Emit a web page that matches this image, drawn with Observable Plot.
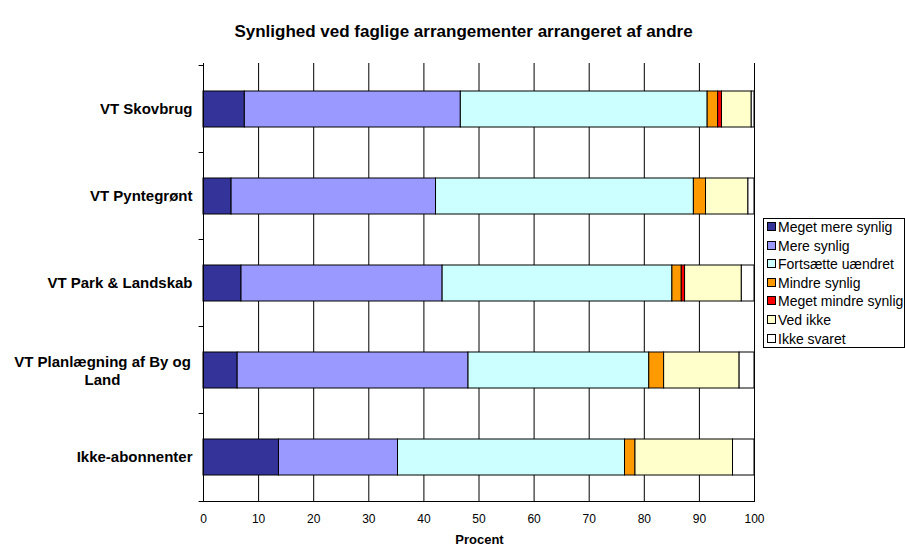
<!DOCTYPE html>
<html>
<head>
<meta charset="utf-8">
<script src="https://cdn.jsdelivr.net/npm/d3@7"></script>
<script src="https://cdn.jsdelivr.net/npm/@observablehq/plot@0.6"></script>
<style>
  html, body { margin: 0; padding: 0; background: #fff; }
  body { font-family: "Liberation Sans", Arial, sans-serif; }
  #wrap { position: relative; width: 905px; height: 547px; overflow: hidden; }
  #title { position: absolute; left: 0; width: 927px; top: 22px; text-align: center; font-weight: bold; font-size: 17px; line-height: 20px; }
  #xlabel { position: absolute; left: 203px; width: 553px; top: 532px; text-align: center; font-weight: bold; font-size: 13px; line-height: 15px; }
  #legend { position: absolute; left: 763px; top: 218px; width: 142px; height: 130px; box-sizing: border-box; border: 1px solid #000; background: #fff; }
  .item { position: absolute; left: 3px; height: 16px; font-size: 14px; line-height: 16px; white-space: nowrap; }
  .sw { display: inline-block; width: 7px; height: 7px; border: 1px solid #000; margin-right: 2px; vertical-align: 1px; }
  #chart { position: absolute; left: 0; top: 0; }
</style>
</head>
<body>
<div id="wrap">
  <div id="chart"></div>
  <div id="title">Synlighed ved faglige arrangementer arrangeret af andre</div>
  <div id="xlabel">Procent</div>
  <div id="legend"></div>
</div>
<script>
const categories = ["VT Skovbrug", "VT Pyntegrønt", "VT Park & Landskab", "VT Planlægning af By og Land", "Ikke-abonnenter"];
const categoryLabels = ["VT Skovbrug", "VT Pyntegrønt", "VT Park & Landskab", "VT Planlægning af By og\nLand", "Ikke-abonnenter"];
const series = ["Meget mere synlig", "Mere synlig", "Fortsætte uændret", "Mindre synlig", "Meget mindre synlig", "Ved ikke", "Ikke svaret"];
const seriesColors = ["#333399", "#9999FF", "#CCFFFF", "#FF9900", "#FF0000", "#FFFFCC", "#FFFFFF"];

const megetMereSynlig   = [7.5, 5.1, 6.9, 6.2, 13.7];
const mereSynlig        = [39.2, 37.1, 36.5, 41.9, 21.6];
const fortsaetteUaendret= [44.8, 46.8, 41.7, 32.8, 41.2];
const mindreSynlig      = [1.9, 2.2, 1.7, 2.7, 1.9];
const megetMindreSynlig = [0.7, 0, 0.6, 0, 0];
const vedIkke           = [5.4, 7.7, 10.3, 13.7, 17.7];
const ikkeSvaret        = [0.5, 1.1, 2.3, 2.7, 3.9];
const xTicks = [0, 10, 20, 30, 40, 50, 60, 70, 80, 90, 100];

const seriesValues = [megetMereSynlig, mereSynlig, fortsaetteUaendret, mindreSynlig, megetMindreSynlig, vedIkke, ikkeSvaret];
const data = categories.flatMap((c, i) => series.map((s, j) => ({category: c, series: s, value: seriesValues[j][i]})))
  .filter(d => d.value > 0);

const singleLabels = categories.filter((c, i) => !categoryLabels[i].includes("\n"));
const multiLabels = categories.filter((c, i) => categoryLabels[i].includes("\n"));
const labelOf = c => categoryLabels[categories.indexOf(c)];
const lastCat = categories[categories.length - 1];

const chart = Plot.plot({
  width: 905,
  height: 547,
  marginLeft: 203,
  marginRight: 151,
  marginTop: 63,
  marginBottom: 45,
  style: {fontFamily: "'Liberation Sans', Arial, sans-serif", background: "transparent"},
  x: {domain: [0, 100], axis: null},
  y: {domain: categories, paddingInner: 0.59, paddingOuter: 0.295, axis: null},
  color: {domain: series, range: seriesColors},
  marks: [
    Plot.ruleX(xTicks.slice(1), {stroke: "#000", strokeWidth: 1}),
    Plot.barX(data, Plot.stackX({x: "value", y: "category", fill: "series", stroke: "#000", strokeWidth: 1, order: series})),
    Plot.ruleX([0], {stroke: "#000", strokeWidth: 1}),
    Plot.ruleY([lastCat], {x1: 0, x2: 100, dy: 44, stroke: "#000", strokeWidth: 1}),
    Plot.ruleY(categories, {x1: -0.8, x2: 0, dy: -44, stroke: "#000"}),
    Plot.ruleY([lastCat], {x1: -0.8, x2: 0, dy: 44, stroke: "#000"}),
    Plot.ruleX(xTicks, {y: lastCat, dy: 44, insetTop: 44 + 18, insetBottom: -49 + 18, stroke: "#000"}),
    Plot.axisX({ticks: xTicks, tickSize: 0, tickPadding: 12, fontSize: 12, label: null, tickFormat: d => String(d)}),
    Plot.text(singleLabels, {y: d => d, text: labelOf, frameAnchor: "left", dx: -11, textAnchor: "end", fontSize: 15, fontWeight: "bold", fill: "#000"}),
    Plot.text(multiLabels, {y: d => d, text: labelOf, frameAnchor: "left", dx: -101, textAnchor: "middle", fontSize: 15, fontWeight: "bold", lineHeight: 1.2, fill: "#000"})
  ]
});
document.getElementById("chart").appendChild(chart);

const legend = document.getElementById("legend");
series.forEach((s, i) => {
  const div = document.createElement("div");
  div.className = "item";
  div.style.top = (0 + i * 18.6) + "px";
  const sw = document.createElement("span");
  sw.className = "sw";
  sw.style.background = seriesColors[i];
  div.appendChild(sw);
  div.appendChild(document.createTextNode(s));
  legend.appendChild(div);
});
</script>
</body>
</html>
